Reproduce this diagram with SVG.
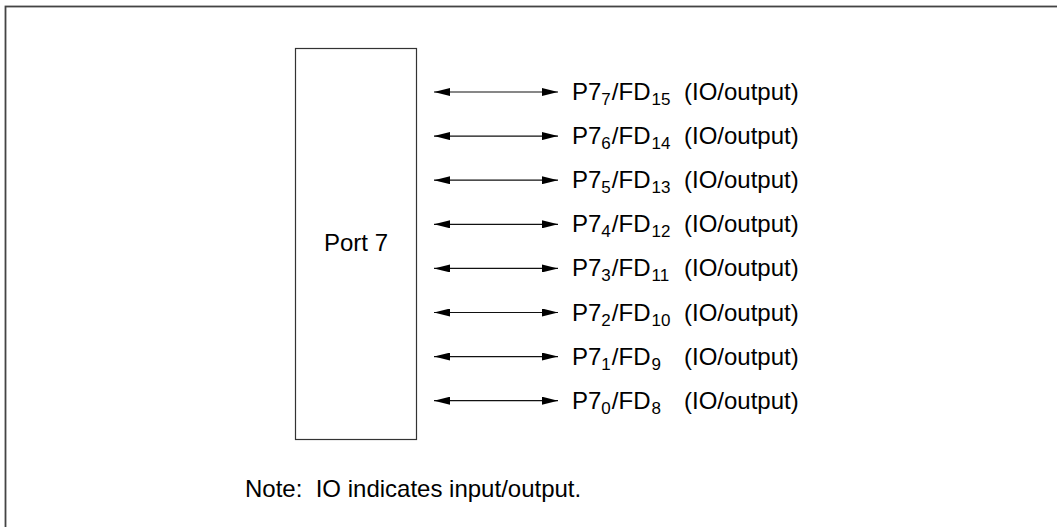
<svg xmlns="http://www.w3.org/2000/svg" width="1057" height="527" viewBox="0 0 1057 527">
<defs>
<style>
.t{font-family:"Liberation Sans",Arial,sans-serif;font-size:24px;fill:#000}
.s{font-size:17px}
.c{stroke:#111;stroke-width:1.2;fill:none}
</style>
<marker id="ah" viewBox="0 0 16 8" refX="16" refY="4" markerWidth="16" markerHeight="8" markerUnits="userSpaceOnUse" orient="auto-start-reverse"><path d="M0,0 L16,4 L0,8 Z" fill="#000"/></marker>
</defs>
<rect width="1057" height="527" fill="#fff"/>
<rect x="5.5" y="6.5" width="1060" height="530" fill="none" stroke="#444" stroke-width="1.8"/>
<g id="port7">
<rect x="295.5" y="48.5" width="121" height="391" fill="#fff" stroke="#333" stroke-width="1.2"/>
<text class="t" x="356" y="251" text-anchor="middle">Port 7</text>
</g>
<g id="connectors">
<line class="c" x1="434" y1="92" x2="558" y2="92" marker-start="url(#ah)" marker-end="url(#ah)"/>
<line class="c" x1="434" y1="136.1" x2="558" y2="136.1" marker-start="url(#ah)" marker-end="url(#ah)"/>
<line class="c" x1="434" y1="180.2" x2="558" y2="180.2" marker-start="url(#ah)" marker-end="url(#ah)"/>
<line class="c" x1="434" y1="224.3" x2="558" y2="224.3" marker-start="url(#ah)" marker-end="url(#ah)"/>
<line class="c" x1="434" y1="268.4" x2="558" y2="268.4" marker-start="url(#ah)" marker-end="url(#ah)"/>
<line class="c" x1="434" y1="312.5" x2="558" y2="312.5" marker-start="url(#ah)" marker-end="url(#ah)"/>
<line class="c" x1="434" y1="356.6" x2="558" y2="356.6" marker-start="url(#ah)" marker-end="url(#ah)"/>
<line class="c" x1="434" y1="400.7" x2="558" y2="400.7" marker-start="url(#ah)" marker-end="url(#ah)"/>
</g>
<g id="labels">
<text class="t" x="572" y="100">P7<tspan class="s" dy="5">7</tspan><tspan dy="-5" dx="1">/FD</tspan><tspan class="s" dy="5" dx="1">15</tspan><tspan dy="-5" x="684">(IO/output)</tspan></text>
<text class="t" x="572" y="144.1">P7<tspan class="s" dy="5">6</tspan><tspan dy="-5" dx="1">/FD</tspan><tspan class="s" dy="5" dx="1">14</tspan><tspan dy="-5" x="684">(IO/output)</tspan></text>
<text class="t" x="572" y="188.2">P7<tspan class="s" dy="5">5</tspan><tspan dy="-5" dx="1">/FD</tspan><tspan class="s" dy="5" dx="1">13</tspan><tspan dy="-5" x="684">(IO/output)</tspan></text>
<text class="t" x="572" y="232.3">P7<tspan class="s" dy="5">4</tspan><tspan dy="-5" dx="1">/FD</tspan><tspan class="s" dy="5" dx="1">12</tspan><tspan dy="-5" x="684">(IO/output)</tspan></text>
<text class="t" x="572" y="276.4">P7<tspan class="s" dy="5">3</tspan><tspan dy="-5" dx="1">/FD</tspan><tspan class="s" dy="5" dx="1">11</tspan><tspan dy="-5" x="684">(IO/output)</tspan></text>
<text class="t" x="572" y="320.5">P7<tspan class="s" dy="5">2</tspan><tspan dy="-5" dx="1">/FD</tspan><tspan class="s" dy="5" dx="1">10</tspan><tspan dy="-5" x="684">(IO/output)</tspan></text>
<text class="t" x="572" y="364.6">P7<tspan class="s" dy="5">1</tspan><tspan dy="-5" dx="1">/FD</tspan><tspan class="s" dy="5" dx="1">9</tspan><tspan dy="-5" x="684">(IO/output)</tspan></text>
<text class="t" x="572" y="408.7">P7<tspan class="s" dy="5">0</tspan><tspan dy="-5" dx="1">/FD</tspan><tspan class="s" dy="5" dx="1">8</tspan><tspan dy="-5" x="684">(IO/output)</tspan></text>
</g>
<g id="note">
<text class="t" x="245" y="497">Note:&#160; IO indicates input/output.</text>
</g>
</svg>
